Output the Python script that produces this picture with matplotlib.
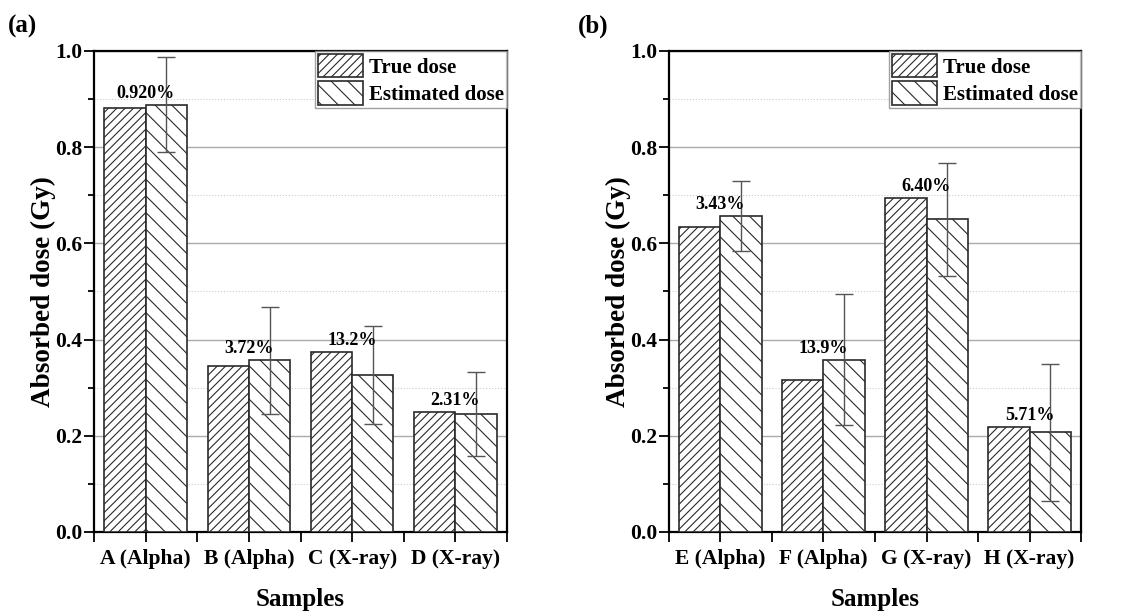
import matplotlib.pyplot as plt
from matplotlib.ticker import MultipleLocator, FixedLocator
import numpy as np

plt.rcParams['font.family'] = 'Liberation Serif'
plt.rcParams['font.weight'] = 'bold'
plt.rcParams['hatch.linewidth'] = 0.8

## panel (a)
samples_a = ['A (Alpha)', 'B (Alpha)', 'C (X-ray)', 'D (X-ray)']
true_a = [0.881, 0.345, 0.374, 0.249]
est_a = [0.888, 0.357, 0.326, 0.245]
err_a = [0.099, 0.111, 0.102, 0.088]
pct_a = ['0.920%', '3.72%', '13.2%', '2.31%']

## panel (b)
samples_b = ['E (Alpha)', 'F (Alpha)', 'G (X-ray)', 'H (X-ray)']
true_b = [0.635, 0.315, 0.694, 0.219]
est_b = [0.657, 0.358, 0.650, 0.207]
err_b = [0.072, 0.136, 0.118, 0.142]
pct_b = ['3.43%', '13.9%', '6.40%', '5.71%']

fig = plt.figure(figsize=(11.42, 6.14), dpi=100)
ax1 = fig.add_axes([0.0823, 0.1336, 0.3617, 0.7834])
ax2 = fig.add_axes([0.5858, 0.1336, 0.3608, 0.7834])


def draw(ax, names, true, est, err, pct):
    x = np.arange(1, len(names) + 1)
    w = 0.4
    ax.bar(x - w / 2, true, w, color='white', edgecolor='#2a2a2a', linewidth=1.2,
           hatch='////', label='True dose', zorder=3)
    ax.bar(x + w / 2, est, w, color='white', edgecolor='#2a2a2a', linewidth=1.2,
           hatch='\\\\', label='Estimated dose', zorder=3)
    ax.errorbar(x + w / 2, est, yerr=err, fmt='none', ecolor='#555555',
                elinewidth=1.0, capsize=6.5, capthick=1.0, zorder=4)
    for xi, t, e, p in zip(x, true, est, pct):
        ax.text(xi, max(t, e) + 0.006, p, ha='center', va='bottom',
                fontsize=13, fontweight='bold', zorder=5)

    ax.set_xlim(0.5, len(names) + 0.5)
    ax.set_ylim(0, 1.0)
    ax.xaxis.set_major_locator(FixedLocator(x))
    ax.xaxis.set_minor_locator(FixedLocator(np.arange(0.5, len(names) + 1, 1)))
    ax.set_xticklabels(names)
    ax.yaxis.set_major_locator(MultipleLocator(0.2))
    ax.yaxis.set_minor_locator(MultipleLocator(0.1))
    ax.tick_params(axis='both', which='major', direction='out', length=7, width=1.3,
                   labelsize=15.5)
    ax.tick_params(axis='y', which='major', pad=1.5)
    ax.tick_params(axis='x', which='major', pad=5)
    ax.tick_params(axis='x', which='minor', direction='out', length=7, width=1.3)
    ax.tick_params(axis='y', which='minor', direction='out', length=4, width=1.3)
    ax.grid(axis='y', which='major', color='#aaaaaa', linewidth=1.0, zorder=0)
    ax.grid(axis='y', which='minor', color='#cccccc', linewidth=0.8,
            linestyle=':', zorder=0)
    ax.set_axisbelow(True)
    for s in ax.spines.values():
        s.set_linewidth(1.6)
    ax.set_xlabel('Samples', fontsize=18, fontweight='bold', labelpad=14)
    ax.set_ylabel('Absorbed dose (Gy)', fontsize=19.5, fontweight='bold', labelpad=-1)
    leg = ax.legend(loc='upper right', fontsize=15, frameon=True, fancybox=False,
                    borderaxespad=0, handlelength=2.16, handleheight=1.35,
                    labelspacing=0.18, borderpad=0.15, handletextpad=0.3)
    leg.get_frame().set_edgecolor('#888888')
    leg.get_frame().set_linewidth(1.0)


draw(ax1, samples_a, true_a, est_a, err_a, pct_a)
draw(ax2, samples_b, true_b, est_b, err_b, pct_b)

fig.text(0.007, 0.957, '(a)', fontsize=18, fontweight='bold', va='center')
fig.text(0.506, 0.957, '(b)', fontsize=18, fontweight='bold', va='center')

fig.savefig('out.png', dpi=100)
